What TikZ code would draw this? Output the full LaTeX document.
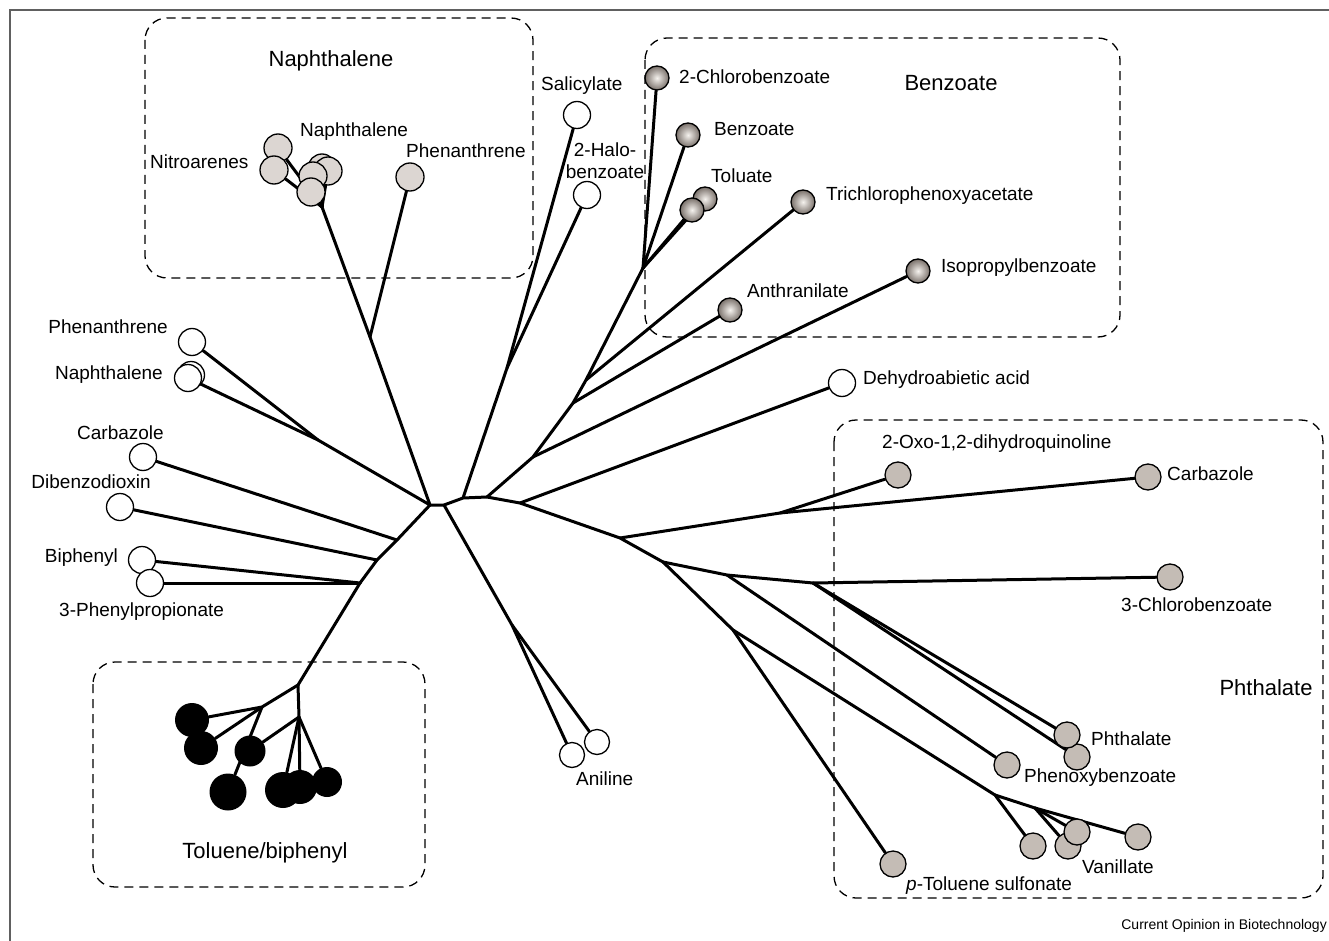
\documentclass[tikz,border=0pt]{standalone}
\usepackage{fontspec}
\setmainfont{Liberation Sans}
\usetikzlibrary{backgrounds}
\definecolor{ngray}{HTML}{DCD6D2}
\definecolor{pgray}{HTML}{C4BCB5}
\definecolor{bin}{HTML}{F5F2EE}
\definecolor{bout}{HTML}{7A716B}
\definecolor{framec}{HTML}{606060}
\begin{document}
\begin{tikzpicture}[x=1pt,y=-1pt,
  edge/.style={line width=3pt, line cap=round, line join=round},
  wleaf/.style={circle, draw=black, line width=1.3pt, fill=white, minimum size=27pt, inner sep=0pt},
  nleaf/.style={wleaf, fill=ngray, minimum size=28pt},
  bleaf/.style={circle, draw=black, line width=1.3pt, inner sep=0pt, minimum size=24pt, shading=radial, inner color=bin, outer color=bout},
  pleaf/.style={wleaf, fill=pgray, minimum size=26pt},
  kleaf/.style={circle, fill=black, inner sep=0pt},
  lab/.style={font=\fontsize{19}{22}\selectfont, inner sep=0pt},
  head/.style={font=\fontsize{22}{26}\selectfont, inner sep=0pt},
  grp/.style={draw, line width=1.3pt, rounded corners=22pt, dash pattern=on 9pt off 6pt},
]
\useasboundingbox (0,0) rectangle (1329,941);
\draw[framec, line width=1.5pt] (10,941) -- (10,10) -- (1329,10);

% group boxes
\draw[grp] (145,18) rectangle (533,278);
\draw[grp] (645,38) rectangle (1120,337);
\draw[grp] (834,420) rectangle (1323,898);
\draw[grp] (93,662) rectangle (425,887);

% group headers
\node[head] (hNaph) at (331,61) {Naphthalene};
\node[head] (hBenz) at (951,83) {Benzoate};
\node[head] (hPhth) at (1266,688) {Phthalate};
\node[head] (hTol) at (265,853) {Toluene/biphenyl};

% junctions
\coordinate (J0) at (430,505);
\coordinate (J1) at (444,505);
\coordinate (J2) at (463,498);
\coordinate (J3) at (487,497);
\coordinate (J4) at (520,503);
\coordinate (S) at (507,368);
\coordinate (K1) at (533,457);
\coordinate (K2) at (573,403);
\coordinate (T1) at (586,380);
\coordinate (C) at (643,268);
\coordinate (P1) at (620,538);
\coordinate (O1) at (780,513);
\coordinate (P2) at (663,562);
\coordinate (P3) at (727,575);
\coordinate (P4) at (813,583);
\coordinate (Q) at (733,630);
\coordinate (V1) at (995,795);
\coordinate (V2) at (1035,808);
\coordinate (A1) at (512,625);
\coordinate (NJ0) at (370,337);
\coordinate (NJ) at (322,207);
\coordinate (N1) at (318,440);
\coordinate (L1) at (397,540);
\coordinate (L2) at (377,560);
\coordinate (L3) at (360,583);
\coordinate (T0) at (298,685);
\coordinate (TA) at (262,707);
\coordinate (TB) at (299,717);

% Naphthalene group leaves
\node[nleaf] (nc1) at (278,148) {};
\node[nleaf] (nc2) at (274,170) {};
\node[nleaf] (nc6) at (322,168) {};
\node[nleaf] (nc4) at (328,171) {};
\node[nleaf] (nc3) at (313,176) {};
\node[nleaf] (nc5) at (311,192) {};
\node[nleaf] (phB) at (410,177) {};
\node[lab, anchor=west] (lNitro) at (150,162) {Nitroarenes};
\node[lab, anchor=west] (lNaphB) at (300,132) {Naphthalene};
\node[lab, anchor=west] (lPhenB) at (406,151) {Phenanthrene};

% Salicylate / halobenzoate
\node[wleaf] (sal) at (577,115) {};
\node[wleaf] (halo) at (587,195) {};
\node[lab, anchor=west] (lSal) at (541,86) {Salicylate};
\node[lab, align=center] (lHalo) at (605,161) {2-Halo-\\benzoate};

% Benzoate group leaves
\node[bleaf] (cl2) at (657,78) {};
\node[bleaf] (benz) at (688,135) {};
\node[bleaf] (tol1) at (705,199) {};
\node[bleaf] (tol2) at (692,210) {};
\node[bleaf] (tri) at (803,202) {};
\node[bleaf] (iso) at (918,271) {};
\node[bleaf] (anth) at (730,310) {};
\node[lab, anchor=west] (lCl2) at (679,77) {2-Chlorobenzoate};
\node[lab, anchor=west] (lBenz) at (714,129) {Benzoate};
\node[lab, anchor=west] (lTol) at (711,176) {Toluate};
\node[lab, anchor=west] (lTri) at (826,196) {Trichlorophenoxyacetate};
\node[lab, anchor=west] (lIso) at (941,268) {Isopropylbenzoate};
\node[lab, anchor=west] (lAnth) at (747,291) {Anthranilate};

% Dehydroabietic acid
\node[wleaf] (deh) at (842,383) {};
\node[lab, anchor=west] (lDeh) at (863,380) {Dehydroabietic acid};

% Phthalate group leaves
\node[pleaf] (oxo) at (898,475) {};
\node[pleaf] (carR) at (1148,477) {};
\node[pleaf] (cl3) at (1170,577) {};
\node[pleaf] (ph2) at (1077,757) {};
\node[pleaf] (ph1) at (1067,735) {};
\node[pleaf] (phe) at (1007,765) {};
\node[pleaf] (va1) at (1033,846) {};
\node[pleaf] (va2) at (1068,846) {};
\node[pleaf] (va3) at (1077,832) {};
\node[pleaf] (va4) at (1138,837) {};
\node[pleaf] (ptol) at (893,864) {};
\node[lab, anchor=west] (lOxo) at (882,444) {2-Oxo-1,2-dihydroquinoline};
\node[lab, anchor=west] (lCarR) at (1167,474) {Carbazole};
\node[lab, anchor=west] (lCl3) at (1121,605) {3-Chlorobenzoate};
\node[lab, anchor=west] (lPh) at (1091,739) {Phthalate};
\node[lab, anchor=west] (lPhe) at (1024,778) {Phenoxybenzoate};
\node[lab, anchor=west] (lVan) at (1082,867) {Vanillate};
\node[lab, anchor=west] (lPtol) at (906,886) {\textit{p}-Toluene sulfonate};

% Aniline
\node[wleaf, minimum size=25pt] (an1) at (572,755) {};
\node[wleaf, minimum size=25pt] (an2) at (597,742) {};
\node[lab, anchor=west] (lAn) at (576,779) {Aniline};

% left white leaves
\node[wleaf] (phL) at (192,342) {};
\node[wleaf] (naL2) at (191,375) {};
\node[wleaf] (naL) at (188,378) {};
\node[wleaf] (carL) at (143,457) {};
\node[wleaf] (dibL) at (120,507) {};
\node[wleaf] (biL) at (142,560) {};
\node[wleaf] (ppL) at (150,583) {};
\node[lab, anchor=east] (lPhL) at (168,327) {Phenanthrene};
\node[lab, anchor=east] (lNaL) at (163,375) {Naphthalene};
\node[lab, anchor=east] (lCarL) at (164,433) {Carbazole};
\node[lab, anchor=east] (lDibL) at (151,482) {Dibenzodioxin};
\node[lab, anchor=east] (lBiL) at (118,558) {Biphenyl};
\node[lab, anchor=west] (lPpL) at (59,612) {3-Phenylpropionate};

% Toluene/biphenyl black leaves
\node[kleaf, minimum size=34pt] (bl1) at (192,720) {};
\node[kleaf, minimum size=34pt] (bl2) at (201,748) {};
\node[kleaf, minimum size=31pt] (bl3) at (250,751) {};
\node[kleaf, minimum size=37pt] (bl4) at (228,792) {};
\node[kleaf, minimum size=36pt] (bl5) at (283,790) {};
\node[kleaf, minimum size=34pt] (bl6) at (300,787) {};
\node[kleaf, minimum size=30pt] (bl7) at (327,782) {};

% credit
\node[font=\fontsize{14}{16}\selectfont, inner sep=0pt, anchor=east] (credit) at (1327,926) {Current Opinion in Biotechnology};

\begin{pgfonlayer}{background}
% main trunk
\draw[edge] (J0) -- (J1) -- (J2) -- (J3) -- (J4) -- (P1) -- (P2);
% naphthalene clade
\draw[edge] (J0) -- (NJ0) -- (NJ);
\draw[edge] (NJ0) -- (phB);
\foreach \n in {nc1,nc2,nc3,nc4,nc5,nc6} \draw[edge] (NJ) -- (\n);
% salicylate
\draw[edge] (J2) -- (S) -- (sal);
\draw[edge] (S) -- (halo);
% benzoate clade
\draw[edge] (J3) -- (K1) -- (K2) -- (T1) -- (C);
\draw[edge] (K1) -- (iso);
\draw[edge] (K2) -- (anth);
\draw[edge] (T1) -- (tri);
\foreach \n in {cl2,benz,tol1,tol2} \draw[edge] (C) -- (\n);
% dehydroabietic
\draw[edge] (J4) -- (deh);
% phthalate clade
\draw[edge] (P1) -- (O1) -- (oxo);
\draw[edge] (O1) -- (carR);
\draw[edge] (P2) -- (P3) -- (P4) -- (cl3);
\draw[edge] (P4) -- (ph1);
\draw[edge] (P4) -- (ph2);
\draw[edge] (P3) -- (phe);
\draw[edge] (P2) -- (Q) -- (ptol);
\draw[edge] (Q) -- (V1) -- (va1);
\draw[edge] (V1) -- (V2);
\foreach \n in {va2,va3,va4} \draw[edge] (V2) -- (\n);
% aniline
\draw[edge] (J1) -- (A1) -- (an1);
\draw[edge] (A1) -- (an2);
% left clade
\draw[edge] (J0) -- (N1) -- (phL);
\draw[edge] (N1) -- (naL);
\draw[edge] (J0) -- (L1) -- (L2) -- (L3) -- (T0);
\draw[edge] (L1) -- (carL);
\draw[edge] (L2) -- (dibL);
\draw[edge] (L3) -- (biL);
\draw[edge] (L3) -- (ppL);
% toluene/biphenyl clade
\draw[edge] (T0) -- (TA) -- (bl1);
\draw[edge] (TA) -- (bl2);
\draw[edge] (TA) -- (bl4);
\draw[edge] (T0) -- (TB) -- (bl3);
\foreach \n in {bl5,bl6,bl7} \draw[edge] (TB) -- (\n);
\end{pgfonlayer}
\end{tikzpicture}
\end{document}
